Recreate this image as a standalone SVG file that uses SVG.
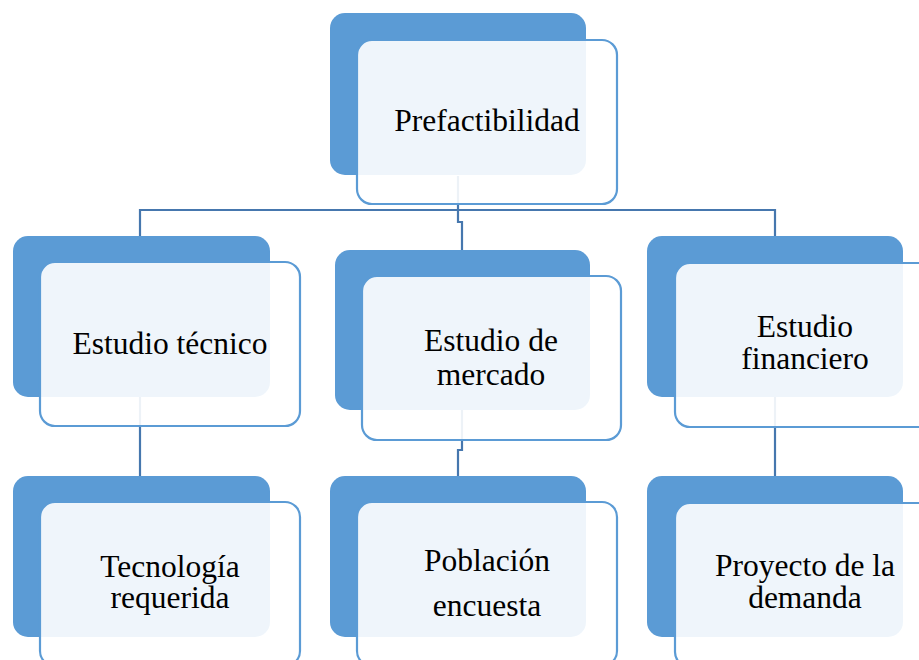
<svg xmlns="http://www.w3.org/2000/svg" width="919" height="660" viewBox="0 0 919 660">
<style>
.dark{fill:#5B9BD5;}
.light{fill:#ffffff;fill-opacity:0.9;stroke:#5B9BD5;stroke-width:2.2;}
.conn{fill:none;stroke:#4677AE;stroke-width:2.2;}
text{font-family:"Liberation Serif","Times New Roman",serif;font-size:31.5px;fill:#000;text-anchor:middle;}
</style>
<rect width="919" height="660" fill="#ffffff"/>
<g id="connectors">
<path class="conn" d="M458,176 V222 H462 V252"/>
<path class="conn" d="M140,236 V210 H775 V236"/>
<path class="conn" d="M140,397 V476"/>
<path class="conn" d="M462,410 V450 H458 V476"/>
<path class="conn" d="M775,397 V476"/>
</g>
<g id="prefactibilidad">
<rect class="dark" x="330" y="13" width="256" height="162" rx="15"/>
<rect class="light" x="357" y="40" width="260" height="164" rx="15"/>
<text x="487" y="131">Prefactibilidad</text>
</g>
<g id="estudio-tecnico">
<rect class="dark" x="13" y="236" width="257" height="161" rx="15"/>
<rect class="light" x="40" y="262" width="260" height="164" rx="15"/>
<text x="170" y="354">Estudio técnico</text>
</g>
<g id="estudio-mercado">
<rect class="dark" x="335" y="250" width="255" height="160" rx="15"/>
<rect class="light" x="362" y="276" width="259" height="164" rx="15"/>
<text x="491" y="351">Estudio de</text>
<text x="491" y="385">mercado</text>
</g>
<g id="estudio-financiero">
<rect class="dark" x="647" y="236" width="256" height="161" rx="15"/>
<rect class="light" x="675" y="263" width="260" height="164" rx="15"/>
<text x="805" y="337">Estudio</text>
<text x="805" y="369">financiero</text>
</g>
<g id="tecnologia">
<rect class="dark" x="13" y="476" width="257" height="161" rx="15"/>
<rect class="light" x="40" y="502" width="260" height="164" rx="15"/>
<text x="170" y="577">Tecnología</text>
<text x="170" y="608">requerida</text>
</g>
<g id="poblacion">
<rect class="dark" x="330" y="476" width="256" height="161" rx="15"/>
<rect class="light" x="357" y="502" width="260" height="164" rx="15"/>
<text x="487" y="571">Población</text>
<text x="487" y="616">encuesta</text>
</g>
<g id="proyecto">
<rect class="dark" x="647" y="476" width="256" height="161" rx="15"/>
<rect class="light" x="675" y="503" width="260" height="164" rx="15"/>
<text x="805" y="576">Proyecto de la</text>
<text x="805" y="608">demanda</text>
</g>
</svg>
